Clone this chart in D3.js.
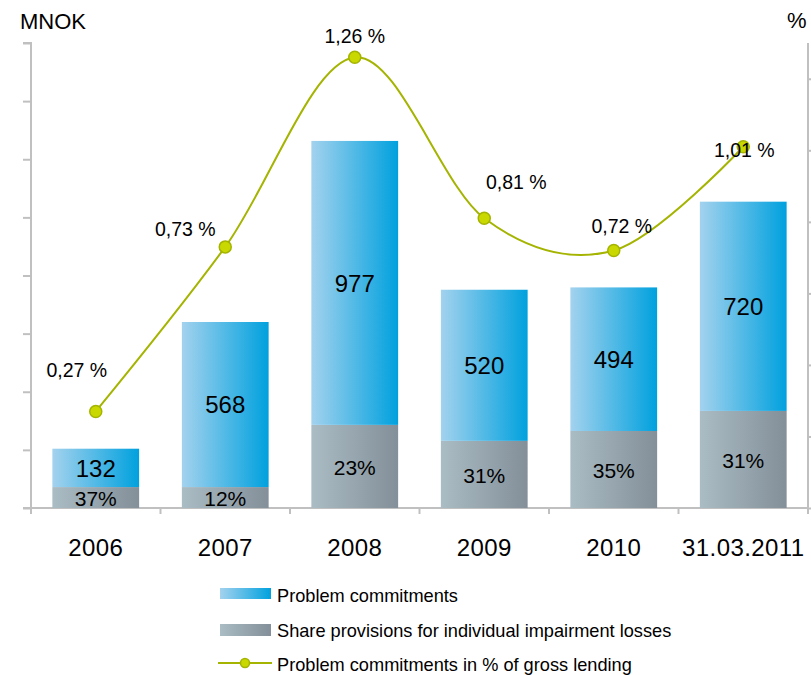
<!DOCTYPE html>
<html><head><meta charset="utf-8">
<script src="https://cdn.jsdelivr.net/npm/d3@7"></script>
<style>body{margin:0;background:#fff}svg{display:block}text{font-family:"Liberation Sans",Arial,Helvetica,sans-serif;fill:#000}</style>
</head><body><svg id="c" width="811" height="675"></svg>
<script>
const categories = ["2006","2007","2008","2009","2010","31.03.2011"];
const problemCommitments = [132, 568, 977, 520, 494, 720];
const provisions = [72, 72, 286, 231, 265, 334];
const shareLabels = ["37%","12%","23%","31%","35%","31%"];
const pctOfLending = [0.27, 0.73, 1.26, 0.81, 0.72, 1.01];
const pctLabels = ["0,27 %","0,73 %","1,26 %","0,81 %","0,72 %","1,01 %"];
const leftTicks = [0,200,400,600,800,1000,1200,1400,1600];
const rightTicks = [0,0.2,0.4,0.6,0.8,1.0,1.2];
const legendItems = ["Problem commitments","Share provisions for individual impairment losses","Problem commitments in % of gross lending"];

const svg = d3.select("#c");
const x0 = 31, x1 = 808, yTop = 43, yBase = 508;
const x = d3.scaleBand().domain(categories).range([x0, x1]).paddingInner(0.33).paddingOuter(0.165);
const xc = d3.scaleBand().domain(categories).range([x0, x1]);
const y = d3.scaleLinear().domain([0,1600]).range([yBase, yTop]);
const y2 = d3.scaleLinear().domain([0,1.3]).range([yBase, yTop]);

const defs = svg.append("defs");
function grad(id, c1, c2){
  const g = defs.append("linearGradient").attr("id",id).attr("x1","0").attr("x2","1").attr("y1","0").attr("y2","0");
  g.append("stop").attr("offset","0").attr("stop-color",c1);
  g.append("stop").attr("offset","1").attr("stop-color",c2);
}
grad("gBlue","#a3d2ee","#00a1de");
grad("gGray","#aabcc4","#838f99");

// axes
const axisColor = "#c0c0c0";
const gl = svg.append("g").attr("transform",`translate(${x0},0)`)
  .call(d3.axisLeft(y).tickValues(leftTicks).tickSize(8).tickFormat(""));
const gr = svg.append("g").attr("transform",`translate(${x1},0)`)
  .call(d3.axisRight(y2).tickValues(rightTicks).tickSize(6).tickFormat(""));
const gb = svg.append("g").attr("transform",`translate(0,${yBase})`)
  .call(d3.axisBottom(xc).tickValues([]).tickSizeOuter(0).tickFormat(""));
[gl,gr,gb].forEach(g=>{g.selectAll("path,line").attr("stroke",axisColor).attr("stroke-width",2);});
gl.select("path").attr("d",`M-8,${yTop}H0V${yBase}`);
gr.select("path").attr("d",`M0,${yTop}V${yBase}`);
gb.select("path").attr("d",`M${x0-8},0H${x1}`);
// category tick marks on bottom axis
svg.append("g").selectAll("line").data(categories.concat(["end"])).join("line")
  .attr("x1",(d,i)=> i<categories.length ? xc(d) : x1)
  .attr("x2",(d,i)=> i<categories.length ? xc(d) : x1)
  .attr("y1",yBase).attr("y2",yBase+6).attr("stroke",axisColor).attr("stroke-width",2);

// bars
const bars = svg.append("g");
categories.forEach((c,i)=>{
  const bx = x(c), bw = x.bandwidth();
  const yg = y(provisions[i]);
  const yt = y(provisions[i] + problemCommitments[i]);
  bars.append("rect").attr("x",bx).attr("width",bw).attr("y",yg).attr("height",yBase-yg).attr("fill","url(#gGray)");
  bars.append("rect").attr("x",bx).attr("width",bw).attr("y",yt).attr("height",yg-yt).attr("fill","url(#gBlue)");
  bars.append("text").attr("x",bx+bw/2).attr("y",(yt+yg)/2).attr("dy","0.36em").attr("text-anchor","middle")
    .style("font-size","24px").text(problemCommitments[i]);
  bars.append("text").attr("x",bx+bw/2).attr("y",(yg+yBase)/2+1).attr("dy","0.36em").attr("text-anchor","middle")
    .style("font-size","21px").text(shareLabels[i]);
  svg.append("text").attr("x",xc(c)+xc.bandwidth()/2).attr("y",556).attr("text-anchor","middle")
    .style("font-size","24px").style("letter-spacing","0.4px").text(c);
});

// line
const lineColor = "#a4b400";
const pts = categories.map((c,i)=>[xc(c)+xc.bandwidth()/2, y2(pctOfLending[i])]);
svg.append("path").attr("d", d3.line().curve(d3.curveCatmullRom.alpha(0))(pts))
  .attr("fill","none").attr("stroke",lineColor).attr("stroke-width",2);
svg.append("g").selectAll("circle").data(pts).join("circle")
  .attr("cx",d=>d[0]).attr("cy",d=>d[1]).attr("r",6)
  .attr("fill","#c9d800").attr("stroke","#a4b400").attr("stroke-width",1.5);
const labelOffsets = [[-19,-41],[-40,-18],[0,-21],[32,-36],[8,-24],[1,3]];
svg.append("g").selectAll("text").data(pts).join("text")
  .attr("x",(d,i)=>d[0]+labelOffsets[i][0]).attr("y",(d,i)=>d[1]+labelOffsets[i][1])
  .attr("dy","0.36em").attr("text-anchor","middle").style("font-size","19.5px")
  .text((d,i)=>pctLabels[i]);

// axis titles
svg.append("text").attr("x",20).attr("y",29).style("font-size","22px").text("MNOK");
svg.append("text").attr("x",787).attr("y",28).style("font-size","22px").text("%");

// legend
const lg = svg.append("g");
const rows = [602, 637, 671];
lg.append("rect").attr("x",220).attr("y",588).attr("width",51).attr("height",11).attr("fill","url(#gBlue)");
lg.append("rect").attr("x",220).attr("y",624).attr("width",51).attr("height",12).attr("fill","url(#gGray)");
lg.append("line").attr("x1",218).attr("x2",272).attr("y1",663).attr("y2",663).attr("stroke",lineColor).attr("stroke-width",2);
lg.append("circle").attr("cx",245).attr("cy",663).attr("r",4.5).attr("fill","#c9d800").attr("stroke",lineColor).attr("stroke-width",1.5);
lg.selectAll("text").data(legendItems).join("text")
  .attr("x",277).attr("y",(d,i)=>rows[i]).style("font-size","18.2px").text(d=>d);
</script></body></html>
